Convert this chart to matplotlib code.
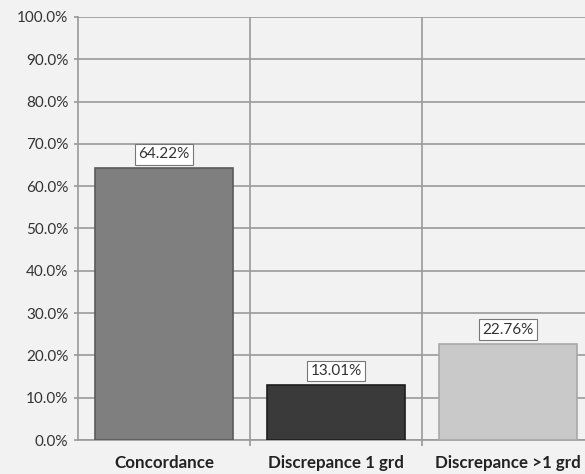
import matplotlib
matplotlib.use("Agg")
import matplotlib.pyplot as plt
from matplotlib.ticker import FuncFormatter, FixedLocator

categories = ["Concordance", "Discrepance 1 grd", "Discrepance >1 grd"]
values = [64.22, 13.01, 22.76]
bar_colors = ["#7f7f7f", "#3a3a3a", "#c9c9c9"]
edge_colors = ["#5a5a5a", "#1e1e1e", "#a8a8a8"]
yticks = [0, 10, 20, 30, 40, 50, 60, 70, 80, 90, 100]

plt.rcParams["font.family"] = ["Lato", "DejaVu Sans"]

fig = plt.figure(figsize=(5.85, 4.74), dpi=100)
fig.patch.set_facecolor("#f2f2f2")
ax = fig.add_axes([78 / 585, 34 / 474, 516 / 585, 423 / 474])
ax.set_facecolor("#f2f2f2")

x = range(len(categories))
ax.bar(x, values, width=0.8, color=bar_colors, edgecolor=edge_colors,
       linewidth=1.2, zorder=3)

for xi, v in zip(x, values):
    ax.annotate(f"{v:.2f}%", (xi, v), xytext=(0, 5), textcoords="offset points",
                ha="center", va="bottom", fontsize=11, color="#333333",
                bbox=dict(boxstyle="square,pad=0.22", fc="white", ec="#777777", lw=0.8),
                zorder=4)

ax.set_xlim(-0.5, 2.5)
ax.set_ylim(0, 100)
ax.set_yticks(yticks)
ax.yaxis.set_major_formatter(FuncFormatter(lambda v, p: f"{v:.1f}%"))
ax.set_xticks(list(x))
ax.set_xticklabels(categories, fontsize=12.2, fontweight="bold", color="#222222")
ax.xaxis.set_minor_locator(FixedLocator([0.5, 1.5]))
ax.tick_params(axis="x", which="major", length=0, pad=11)
ax.tick_params(axis="x", which="minor", length=4, color="#999999", width=1.2)
ax.tick_params(axis="y", labelsize=11, colors="#333333", length=3, width=1.2, pad=4)
ax.tick_params(axis="y", color="#999999")

ax.grid(axis="y", color="#9a9a9a", linewidth=1.2, zorder=1)
ax.grid(axis="x", which="minor", color="#9a9a9a", linewidth=1.2, zorder=1)

for side in ["top", "right"]:
    ax.spines[side].set_visible(False)
ax.spines["left"].set_color("#9a9a9a")
ax.spines["left"].set_linewidth(1.2)
ax.spines["bottom"].set_color("#9a9a9a")
ax.spines["bottom"].set_linewidth(1.2)

fig.savefig("out.png", dpi=100, facecolor=fig.get_facecolor())
